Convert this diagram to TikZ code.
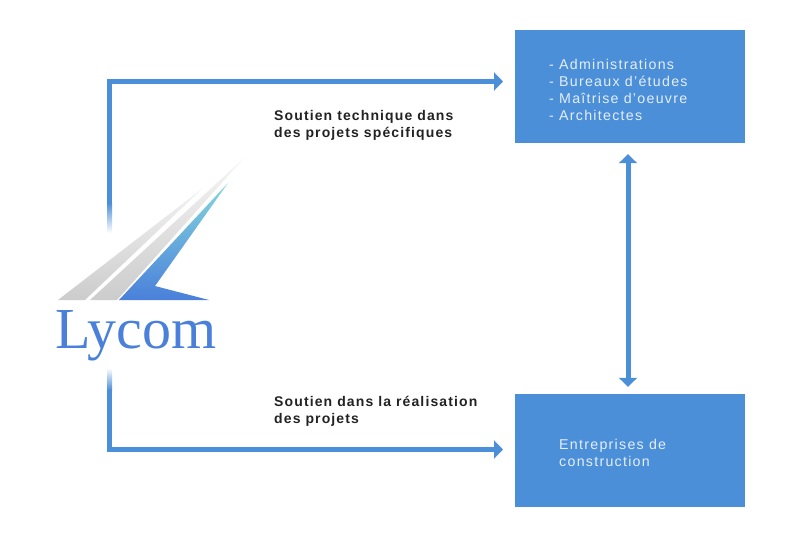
\documentclass[tikz,border=0pt]{standalone}
\usepackage{fontspec}
\setmainfont{Liberation Sans}
\newfontfamily\boxfont[LetterSpace=9]{Liberation Sans}
\newfontfamily\labelfont[LetterSpace=8]{Liberation Sans}
\newfontfamily\logofont{Liberation Serif}
\usetikzlibrary{arrows.meta}
\usetikzlibrary{positioning}
\definecolor{lyblue}{HTML}{4C8FD9}
\definecolor{lylogo}{HTML}{4A80DA}
\definecolor{lymid}{HTML}{4FA0D8}
\definecolor{lyteal}{HTML}{84D6DE}
\definecolor{lytext}{HTML}{E4EEF9}
\definecolor{lydark}{HTML}{222222}
\tikzset{
	bluebox/.style={fill=lyblue, minimum width=230pt, minimum height=113pt, inner sep=0pt},
	boxtext/.style={anchor=north west, inner sep=0pt, text=lytext, font=\boxfont\fontsize{14.2}{16.7}\selectfont, align=left},
	supportlabel/.style={anchor=north west, inner sep=0pt, text=lydark, font=\labelfont\bfseries\fontsize{14}{17}\selectfont, align=left},
	link/.style={draw=lyblue, line width=5pt, >={Triangle[length=9pt,width=18pt,lyblue]}}
}

\begin{document}
\begin{tikzpicture}[x=1pt,y=-1pt]
	\useasboundingbox (0,0) rectangle (800,533);

	% boxes
	\node[bluebox] (admin) at (630,86.5) {};
	\node[bluebox] (entr) at (630,450.5) {};
	\node[boxtext] (admintext) at (549,59.5) {- Administrations\\- Bureaux d’études\\- Maîtrise d’oeuvre\\- Architectes};
	\node[boxtext] (entrtext) at (559,439.5) {Entreprises de\\construction};

	% links
	\coordinate (topstart) at (109.5,203);
	\coordinate (botstart) at (109.5,388);
	\coordinate (adminin) at (515,81.5);
	\coordinate (entrin) at (515,449.5);
	\draw[link, ->, shorten >=12pt] (topstart) |- (adminin);
	\draw[link, ->, shorten >=12pt] (botstart) |- (entrin);
	\draw[link, <->, shorten <=11pt, shorten >=7pt] ([xshift=-2pt]admin.south) -- ([xshift=-2pt]entr.north);
	\shade[top color=lyblue, bottom color=white] (107,203) rectangle (112,233);
	\shade[top color=white, bottom color=lyblue] (107,368) rectangle (112,390);

	% labels
	\node[supportlabel] (toplabel) at (274,110.5) {Soutien technique dans\\des projets spécifiques};
	\node[supportlabel] (botlabel) at (274,396) {Soutien dans la réalisation\\des projets};

	% logo
	\shade[bottom color=black!20, middle color=black!17, top color=black!5] (58,300) -- (85,300) -- (203,188) -- cycle;
	\shade[bottom color=black!20, middle color=black!15, top color=black!4] (90,300) -- (117,300) -- (244,158) -- cycle;
	\shade[bottom color=lylogo, middle color=lymid, top color=lyteal] (119,300) -- (209,300) -- (155,286) -- (228,183) -- cycle;
	\node[anchor=base west, inner sep=0pt, text=lylogo, font=\logofont\fontsize{58}{58}\selectfont] (logo) at (55,348) {Lycom};
\end{tikzpicture}
\end{document}
